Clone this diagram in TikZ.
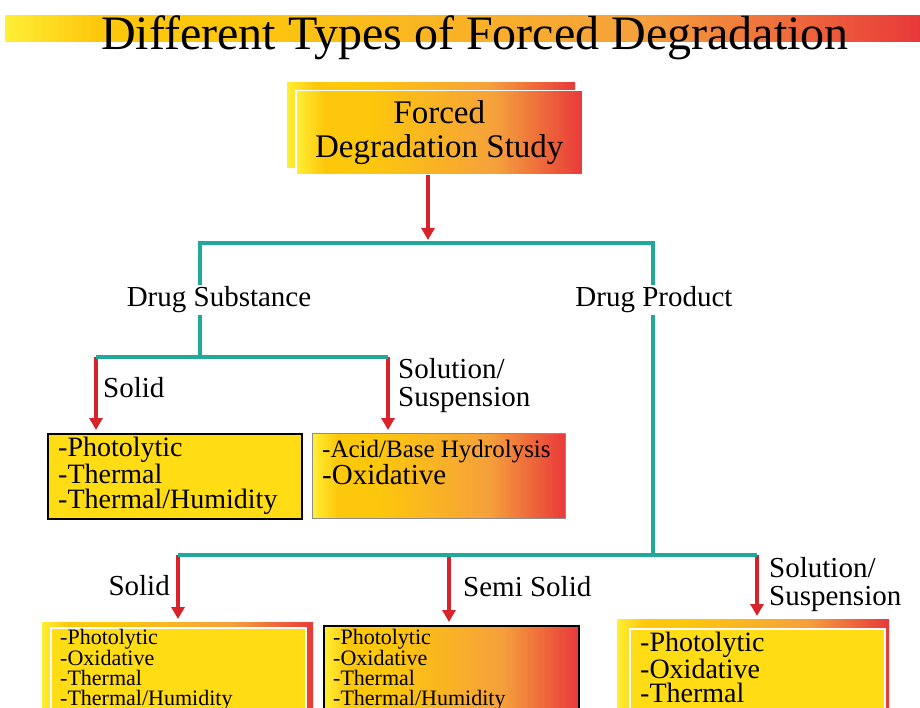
\documentclass[tikz,border=0pt]{standalone}
\usepackage{fontspec}
\setmainfont{Liberation Serif}
\usetikzlibrary{arrows.meta,positioning}
\definecolor{gradYellow}{HTML}{FFEF35}
\definecolor{gradGold}{HTML}{FDC70C}
\definecolor{gradOrange}{HTML}{F5A03C}
\definecolor{gradRed}{HTML}{E8393A}
\definecolor{boxYellow}{HTML}{FFDC14}
\definecolor{treeTeal}{HTML}{20A99B}
\definecolor{arrowRed}{HTML}{D9232B}
\pgfdeclarehorizontalshading{forcedgrad}{100bp}{color(0bp)=(gradYellow); color(25bp)=(gradYellow); color(30bp)=(gradGold); color(38bp)=(gradGold); color(60bp)=(gradOrange); color(75bp)=(gradRed); color(100bp)=(gradRed)}
\tikzset{
  gradbox/.style={rectangle, shade, shading=forcedgrad, inner sep=0pt},
  yellowbox/.style={rectangle, fill=boxYellow, inner sep=0pt},
  teal line/.style={draw=treeTeal, line width=3.5pt},
  red arrow/.style={draw=arrowRed, line width=4pt, -{Triangle[width=13pt,length=12pt]}, shorten >=3pt},
  labeltext/.style={font=\fontsize{29}{28}\selectfont, inner sep=2pt},
  listbig/.style={font=\fontsize{28}{25}\selectfont, align=left, inner sep=0pt},
  listsmall/.style={font=\fontsize{22}{20}\selectfont, align=left, inner sep=0pt},
}
\begin{document}
\begin{tikzpicture}[x=1pt,y=-1pt]
\useasboundingbox (0,0) rectangle (920,708);
% title band
\shade[shading=forcedgrad] (5,16) rectangle (920,42);
\node[font=\fontsize{48}{48}\selectfont, anchor=base, inner sep=0pt] (title) at (475,50) {Different Types of Forced Degradation};
% top box
\node[gradbox, minimum width=288pt, minimum height=85pt, anchor=north west] (studyBack) at (287,82) {};
\node[gradbox, draw=white, line width=1.5pt, minimum width=287pt, minimum height=84pt, anchor=north west, align=center, font=\fontsize{33}{34}\selectfont] (study) at (295,90) {Forced\\Degradation Study};
% tree points
\coordinate (split) at (428,243);
\coordinate (dsTop) at (200,243);
\coordinate (dpTop) at (653,243);
\coordinate (dsSplit) at (200,357);
\coordinate (dsLeft) at (96,357);
\coordinate (dsRight) at (388,357);
\coordinate (dpSplit) at (653,555);
\coordinate (dpLeft) at (178,555);
\coordinate (dpMid) at (449,555);
\coordinate (dpRight) at (757,555);
\node[labeltext, anchor=base] (ds) at (219,307) {Drug Substance};
\node[labeltext, anchor=base] (dp) at (654,307) {Drug Product};
% drug substance boxes
\node[yellowbox, draw=black, line width=2pt, minimum width=254pt, minimum height=85pt, anchor=north west] (dsSolid) at (47,433) {};
\node[listbig, below right=4pt and 11pt of dsSolid.north west] (dsSolidList) {-Photolytic\\-Thermal\\-Thermal/Humidity};
\node[gradbox, draw=black!45, line width=1pt, minimum width=253pt, minimum height=85pt, anchor=north west] (dsSol) at (312,433) {};
\node[listbig, below right=7pt and 10pt of dsSol.north west, font=\fontsize{29}{24}\selectfont] (dsSolList) {{\fontsize{25}{25}\selectfont -Acid/Base Hydrolysis}\\-Oxidative};
% drug product boxes
\node[gradbox, minimum width=271pt, minimum height=100pt, anchor=north west] (dpSolidFrame) at (42,622) {};
\node[yellowbox, draw=white, line width=2pt, minimum width=255pt, minimum height=100pt, anchor=north west] (dpSolid) at (50,627) {};
\node[listsmall, below right=2pt and 10pt of dpSolid.north west] (dpSolidList) {-Photolytic\\-Oxidative\\-Thermal\\-Thermal/Humidity};
\node[gradbox, draw=black, line width=1.5pt, minimum width=255pt, minimum height=100pt, anchor=north west] (dpSemi) at (323,625) {};
\node[listsmall, below right=4pt and 10pt of dpSemi.north west] (dpSemiList) {-Photolytic\\-Oxidative\\-Thermal\\-Thermal/Humidity};
\node[gradbox, minimum width=272pt, minimum height=100pt, anchor=north west] (dpSolFrame) at (617,619) {};
\node[yellowbox, draw=white, line width=2pt, minimum width=255pt, minimum height=100pt, anchor=north west] (dpSol) at (629,628) {};
\node[listbig, font=\fontsize{28}{24}\selectfont, below right=4pt and 11pt of dpSol.north west] (dpSolList) {-Photolytic\\-Oxidative\\-Thermal};
% branch labels
\node[labeltext, anchor=base west] (dsSolidLbl) at (101,397) {Solid};
\node[labeltext, inner sep=0pt, align=left, anchor=north west] (dsSolLbl) at (398,358) {Solution/\\Suspension};
\node[labeltext, anchor=base east] (dpSolidLbl) at (172,595) {Solid};
\node[labeltext, anchor=base west] (dpSemiLbl) at (461,596) {Semi Solid};
\node[labeltext, inner sep=0pt, align=left, anchor=north west] (dpSolLbl) at (769,557) {Solution/\\Suspension};
% arrows
\draw[red arrow] (split |- study.south) -- (split);
\draw[red arrow] (dsLeft) -- (dsSolid.north -| dsLeft);
\draw[red arrow] (dsRight) -- (dsSol.north -| dsRight);
\draw[red arrow] (dpLeft) -- (dpSolidFrame.north -| dpLeft);
\draw[red arrow] (dpMid) -- (dpSemi.north -| dpMid);
\draw[red arrow] (dpRight) -- (dpSolFrame.north -| dpRight);
% tree lines
\draw[teal line] (ds.north -| dsTop) -- (dsTop) -- (dpTop) -- (dp.north -| dpTop);
\draw[teal line] (ds.south -| dsTop) -- (dsSplit);
\draw[teal line] (dsLeft) -- (dsRight);
\draw[teal line] (dp.south -| dpTop) -- (dpSplit);
\draw[teal line] (dpLeft) -- (dpRight);
\end{tikzpicture}
\end{document}
